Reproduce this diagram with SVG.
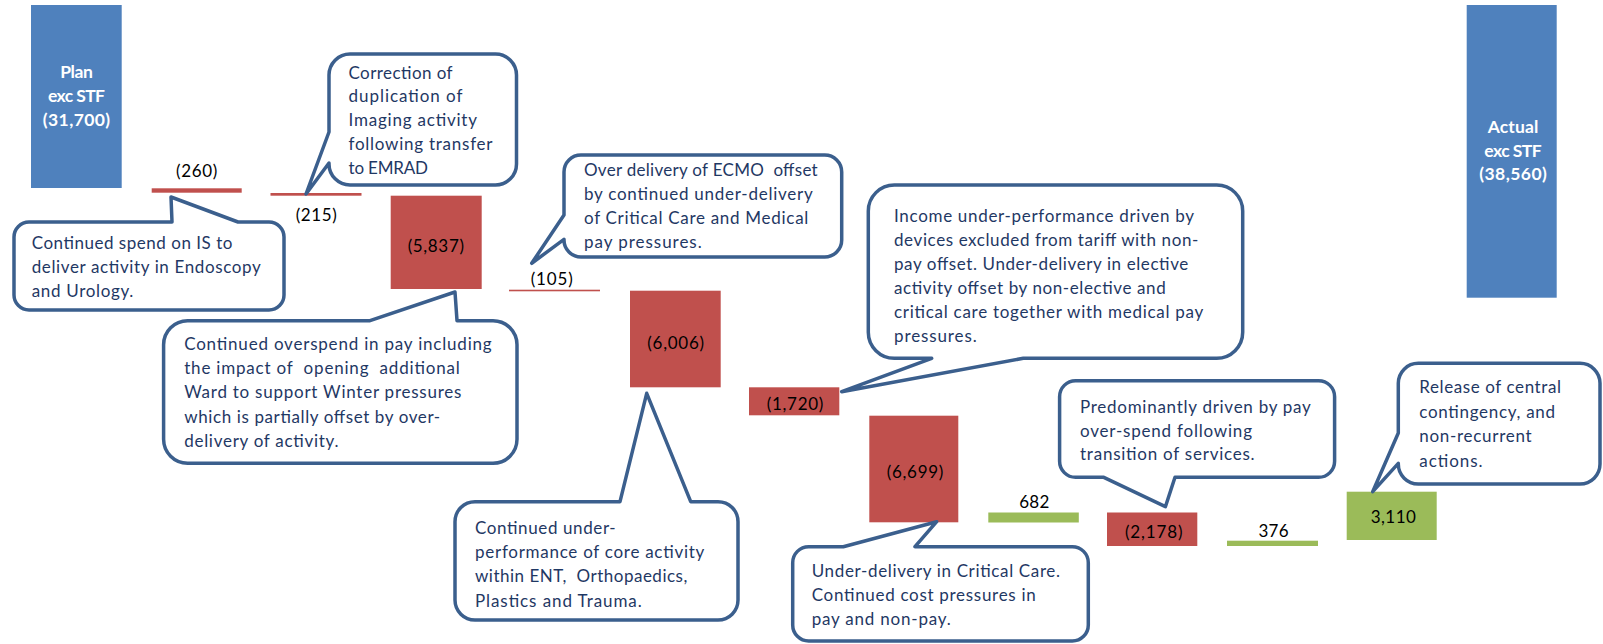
<svg xmlns="http://www.w3.org/2000/svg" width="1603" height="644" viewBox="0 0 1603 644">
<style>
  text { font-family: "Lato", "Liberation Sans", sans-serif; }
  .blue { fill: #4F81BD; }
  .red { fill: #C0504D; }
  .green { fill: #9BBB59; }
  .tot { fill: #FFFFFF; font-size: 17.5px; font-weight: bold; text-anchor: middle; }
  .lb { fill: #000000; font-size: 17px; text-anchor: middle; }
  .co { fill: #FFFFFF; stroke: #3B5F8D; stroke-width: 3.5; stroke-linejoin: round; }
  .ct { fill: #1F3864; font-size: 17px; }
</style>

<!-- Bars -->
<g id="bar-plan">
  <rect class="blue" x="31" y="5" width="90.7" height="183"/>
  <text class="tot" x="76.5" y="78" textLength="32.7">Plan</text>
  <text class="tot" x="76.5" y="102" textLength="57">exc STF</text>
  <text class="tot" x="76.5" y="125.5" textLength="67.3">(31,700)</text>
</g>
<g id="bar-260">
  <rect class="red" x="151.7" y="188.3" width="90" height="4.4"/>
  <text class="lb" x="196.7" y="177" textLength="41.3">(260)</text>
</g>
<g id="bar-215">
  <rect class="red" x="270.5" y="193" width="91" height="2.7"/>
  <text class="lb" x="316.2" y="221" textLength="41">(215)</text>
</g>
<g id="bar-5837">
  <rect class="red" x="390.7" y="195.7" width="91" height="93.3"/>
  <text class="lb" x="435.8" y="251.7" textLength="56.3">(5,837)</text>
</g>
<g id="bar-105">
  <rect class="red" x="509" y="289.7" width="91" height="1.6"/>
  <text class="lb" x="551.7" y="285" textLength="42">(105)</text>
</g>
<g id="bar-6006">
  <rect class="red" x="630" y="290.7" width="90.7" height="96.6"/>
  <text class="lb" x="675.7" y="349" textLength="56.7">(6,006)</text>
</g>
<g id="bar-1720">
  <rect class="red" x="749" y="387.3" width="90.3" height="28"/>
  <text class="lb" x="795" y="410" textLength="56.7">(1,720)</text>
</g>
<g id="bar-6699">
  <rect class="red" x="869.3" y="415.7" width="89" height="106.6"/>
  <text class="lb" x="915" y="477.7" textLength="56.7">(6,699)</text>
</g>
<g id="bar-682">
  <rect class="green" x="988.3" y="512.5" width="90.5" height="10"/>
  <text class="lb" x="1034.3" y="507.7" textLength="30">682</text>
</g>
<g id="bar-2178">
  <rect class="red" x="1107" y="512.5" width="90.3" height="33.5"/>
  <text class="lb" x="1153.8" y="538.3" textLength="57.7">(2,178)</text>
</g>
<g id="bar-376">
  <rect class="green" x="1227" y="540.7" width="91" height="5.3"/>
  <text class="lb" x="1273.5" y="536.7" textLength="30">376</text>
</g>
<g id="bar-3110">
  <rect class="green" x="1346.7" y="491.7" width="90" height="48.3"/>
  <text class="lb" x="1393.3" y="523.3" textLength="45.3">3,110</text>
</g>
<g id="bar-actual">
  <rect class="blue" x="1466.7" y="5" width="90" height="292.7"/>
  <text class="tot" x="1513" y="132.7" textLength="50.7">Actual</text>
  <text class="tot" x="1513" y="156.7" textLength="57.3">exc STF</text>
  <text class="tot" x="1513" y="180" textLength="67.7">(38,560)</text>
</g>

<!-- Callouts -->
<g id="callout-is">
  <path class="co" d="M29,222 L172,222 L171,197 L238,222 H269 A15,15 0 0 1 284,237 V295 A15,15 0 0 1 269,310 H29 A15,15 0 0 1 14,295 V237 A15,15 0 0 1 29,222 Z"/>
  <text class="ct" x="31.7" y="249.3" textLength="200.7">Continued spend on IS to</text>
  <text class="ct" x="31.7" y="273.3" textLength="229">deliver activity in Endoscopy</text>
  <text class="ct" x="31.7" y="296.5" textLength="101.6">and Urology.</text>
</g>
<g id="callout-emrad">
  <path class="co" d="M350,54 H495.5 A21,21 0 0 1 516.5,75 V164 A21,21 0 0 1 495.5,185 H350 A21,21 0 0 1 329,164 V163 L306,194 L329,132 V75 A21,21 0 0 1 350,54 Z"/>
  <text class="ct" x="348.5" y="79" textLength="104">Correction of</text>
  <text class="ct" x="348.5" y="102" textLength="114">duplication of</text>
  <text class="ct" x="348.5" y="126" textLength="128.5">Imaging activity</text>
  <text class="ct" x="348.5" y="150.3" textLength="144">following transfer</text>
  <text class="ct" x="348.5" y="174.3" textLength="79.5">to  EMRAD</text>
</g>
<g id="callout-overspend">
  <path class="co" d="M187.6,320.7 L370,320.7 L455,292 L457,320.7 H493 A24,24 0 0 1 517,344.7 V439.3 A24,24 0 0 1 493,463.3 H187.6 A24,24 0 0 1 163.6,439.3 V344.7 A24,24 0 0 1 187.6,320.7 Z"/>
  <text class="ct" x="184.2" y="350" textLength="307.5">Continued overspend in pay including</text>
  <text class="ct" x="184.2" y="374" textLength="275.5" xml:space="preserve">the impact of  opening  additional</text>
  <text class="ct" x="184.2" y="398.3" textLength="277.2">Ward to support Winter pressures</text>
  <text class="ct" x="184.2" y="422.5" textLength="256">which is partially offset by over-</text>
  <text class="ct" x="184.2" y="446.5" textLength="154.3">delivery of activity.</text>
</g>
<g id="callout-ecmo">
  <path class="co" d="M581,155 H824.7 A17,17 0 0 1 841.7,172 V240 A17,17 0 0 1 824.7,257 H581 A17,17 0 0 1 564,240 V239.3 L531.7,263.3 L564,215 V172 A17,17 0 0 1 581,155 Z"/>
  <text class="ct" x="584" y="176" textLength="233.7" xml:space="preserve">Over delivery of ECMO  offset</text>
  <text class="ct" x="584" y="200" textLength="228.7">by continued under-delivery</text>
  <text class="ct" x="584" y="224" textLength="224.3">of Critical Care and Medical</text>
  <text class="ct" x="584" y="248.3" textLength="117.7">pay pressures.</text>
</g>
<g id="callout-ent">
  <path class="co" d="M475,501.7 L620,501.7 L646.7,393.3 L690.7,501.7 H718 A20,20 0 0 1 738,521.7 V600 A20,20 0 0 1 718,620 H475 A20,20 0 0 1 455,600 V521.7 A20,20 0 0 1 475,501.7 Z"/>
  <text class="ct" x="475" y="534" textLength="140.7">Continued under-</text>
  <text class="ct" x="475" y="558.3" textLength="229.3">performance of core activity</text>
  <text class="ct" x="475" y="582.3" textLength="212.3" xml:space="preserve">within ENT,  Orthopaedics,</text>
  <text class="ct" x="475" y="606.7" textLength="166.7">Plastics and Trauma.</text>
</g>
<g id="callout-income">
  <path class="co" d="M894.3,185 H1216.7 A26,26 0 0 1 1242.7,211 V332.3 A26,26 0 0 1 1216.7,358.3 L1023.3,358.3 L841.7,391.7 L931.7,358.3 H894.3 A26,26 0 0 1 868.3,332.3 V211 A26,26 0 0 1 894.3,185 Z"/>
  <text class="ct" x="894" y="221.7" textLength="300">Income under-performance driven by</text>
  <text class="ct" x="894" y="245.7" textLength="304.3">devices excluded from tariff with non-</text>
  <text class="ct" x="894" y="269.5" textLength="294.3">pay offset. Under-delivery in elective</text>
  <text class="ct" x="894" y="293.8" textLength="271.7">activity offset by non-elective and</text>
  <text class="ct" x="894" y="317.7" textLength="309.3">critical care together with medical pay</text>
  <text class="ct" x="894" y="341.7" textLength="82.7">pressures.</text>
</g>
<g id="callout-critical">
  <path class="co" d="M808.7,546.7 L843.3,546.7 L936.7,521.7 L915,546.7 H1072.3 A16,16 0 0 1 1088.3,562.7 V625 A16,16 0 0 1 1072.3,641 H808.7 A16,16 0 0 1 792.7,625 V562.7 A16,16 0 0 1 808.7,546.7 Z"/>
  <text class="ct" x="811.7" y="577.3" textLength="248.3">Under-delivery in Critical Care.</text>
  <text class="ct" x="811.7" y="601" textLength="224">Continued cost pressures in</text>
  <text class="ct" x="811.7" y="624.5" textLength="139">pay and non-pay.</text>
</g>
<g id="callout-transition">
  <path class="co" d="M1075.6,380.7 H1318.6 A16,16 0 0 1 1334.6,396.7 V461.3 A16,16 0 0 1 1318.6,477.3 L1175,477.3 L1165.4,506.7 L1103.8,477.3 H1075.6 A16,16 0 0 1 1059.6,461.3 V396.7 A16,16 0 0 1 1075.6,380.7 Z"/>
  <text class="ct" x="1080" y="413.3" textLength="230.8">Predominantly driven by pay</text>
  <text class="ct" x="1080" y="436.7" textLength="172">over-spend following</text>
  <text class="ct" x="1080" y="460" textLength="174.6">transition of services.</text>
</g>
<g id="callout-release">
  <path class="co" d="M1418.3,363.3 H1580 A20,20 0 0 1 1600,383.3 V464 A20,20 0 0 1 1580,484 H1418.3 A20,20 0 0 1 1398.3,464 V463.3 L1372.7,491.7 L1398.3,433 V383.3 A20,20 0 0 1 1418.3,363.3 Z"/>
  <text class="ct" x="1419.3" y="393.3" textLength="141.7">Release of central</text>
  <text class="ct" x="1419.3" y="417.7" textLength="135.7">contingency, and</text>
  <text class="ct" x="1419.3" y="441.7" textLength="112.3">non-recurrent</text>
  <text class="ct" x="1419.3" y="466.5" textLength="63.3">actions.</text>
</g>
</svg>
